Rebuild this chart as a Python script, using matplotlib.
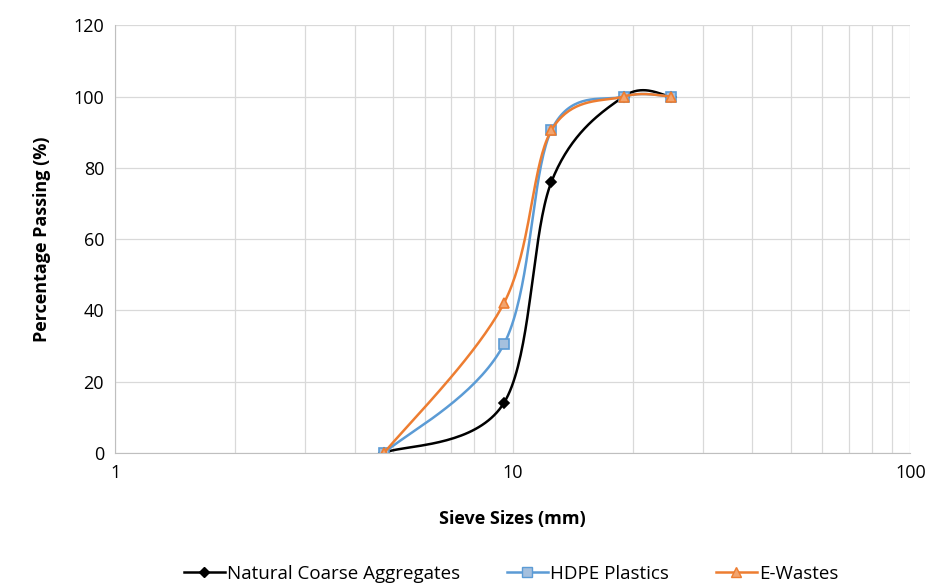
import numpy as np
import matplotlib
matplotlib.use("Agg")
import matplotlib.pyplot as plt
from matplotlib.ticker import FixedLocator, NullFormatter

plt.rcParams["font.family"] = ["Open Sans", "DejaVu Sans"]

sieve_mm = [4.75, 9.5, 12.5, 19, 25]
natural = [0, 14, 76, 100, 100]
hdpe = [0, 30.5, 90.5, 100, 100]
ewaste = [0, 42, 90.5, 100, 100]


def smooth(xs, ys, n=40):
    # Catmull-Rom through the points in log-x space, like Excel's smoothed lines
    px = np.log10(xs) * 400.0
    py = np.asarray(ys, float) * 3.57
    pts = np.column_stack([px, py])
    pts = np.vstack([pts[0], pts, pts[-1]])
    out = []
    for i in range(1, len(pts) - 2):
        p0, p1, p2, p3 = pts[i - 1], pts[i], pts[i + 1], pts[i + 2]
        t = np.linspace(0, 1, n)[:, None]
        c1 = p1 + (p2 - p0) / 6
        c2 = p2 - (p3 - p1) / 6
        seg = (1 - t) ** 3 * p1 + 3 * (1 - t) ** 2 * t * c1 + 3 * (1 - t) * t ** 2 * c2 + t ** 3 * p2
        out.append(seg)
    out = np.vstack(out)
    return 10 ** (out[:, 0] / 400.0), out[:, 1] / 3.57


fig, ax = plt.subplots(figsize=(9.29, 5.88), dpi=100)
fig.subplots_adjust(left=0.124, right=0.98, top=0.957, bottom=0.23)

series = [
    ("Natural Coarse Aggregates", natural, "black", "D", "black", 5),
    ("HDPE Plastics", hdpe, "#5B9BD5", "s", "#A5C0DE", 7),
    ("E-Wastes", ewaste, "#ED7D31", "^", "#F2A46E", 7),
]
for label, ys, color, marker, face, ms in series:
    sx, sy = smooth(sieve_mm, ys)
    ax.plot(sx, sy, color=color, lw=1.8)
    ax.plot(sieve_mm, ys, linestyle="none", marker=marker, ms=ms,
            mfc=face, mec=color, mew=1.2)
    ax.plot([], [], color=color, lw=1.8, marker=marker, ms=ms, mfc=face,
            mec=color, label=label)

ax.set_xscale("log")
ax.set_xlim(1, 100)
ax.set_ylim(0, 120)
ax.set_yticks(range(0, 121, 20))
ax.set_xticks([1, 10, 100])
ax.set_xticklabels(["1", "10", "100"])
ax.xaxis.set_minor_locator(FixedLocator([m * d for d in (1, 10) for m in range(2, 10)]))
ax.xaxis.set_minor_formatter(NullFormatter())
ax.grid(True, which="both", color="#D9D9D9", lw=0.9)
ax.set_axisbelow(True)
for s in ("top", "right"):
    ax.spines[s].set_visible(False)
for s in ("left", "bottom"):
    ax.spines[s].set_color("#BFBFBF")
ax.tick_params(which="both", length=0, labelsize=13, pad=8)

ax.set_xlabel("Sieve Sizes (mm)", fontsize=13, fontweight="bold", labelpad=20)
ax.set_ylabel("Percentage Passing (%)", fontsize=13, fontweight="bold", labelpad=16)
fig.legend(loc="lower center", ncol=3, frameon=False, fontsize=13.5,
           bbox_to_anchor=(0.55, -0.02), handlelength=2.2, columnspacing=2.5,
           handletextpad=0.1)

fig.savefig("out.png", dpi=100)
